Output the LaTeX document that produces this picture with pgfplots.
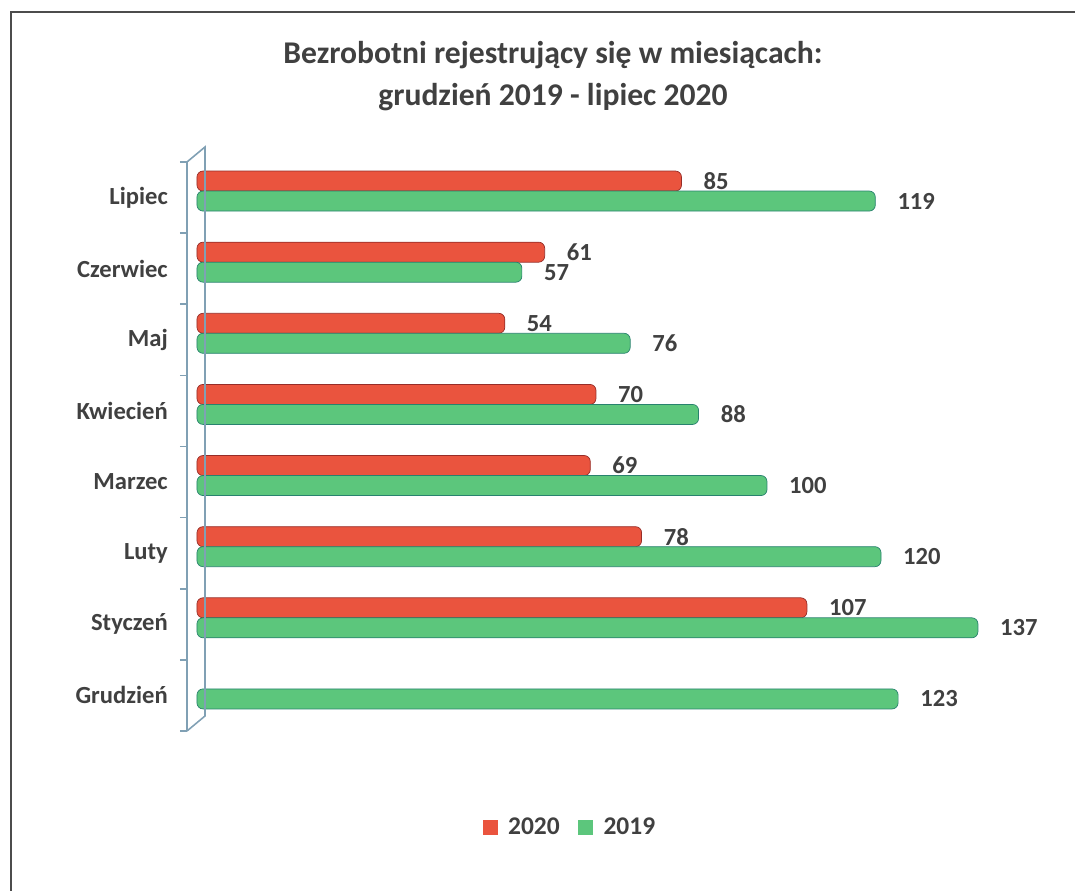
\documentclass[border=0pt]{standalone}
\usepackage{pgfplots}
\pgfplotsset{compat=1.18}
\usepackage{fontspec}
\setmainfont{Carlito}
\definecolor{redbar}{RGB}{234,84,62}
\definecolor{redbot}{RGB}{150,45,40}
\definecolor{greenbar}{RGB}{92,198,124}
\definecolor{greenbot}{RGB}{40,130,110}
\definecolor{txt}{RGB}{64,64,64}
\definecolor{axcol}{RGB}{128,160,180}
\begin{document}
\begin{tikzpicture}[font=\bfseries]
\begin{axis}[
  scale only axis, width=161.6mm, height=113.8mm,
  xbar, bar width=4mm,
  xmin=-1.75, xmax=140, ymin=-0.5, ymax=7.5,
  axis x line=none, axis y line*=left,
  y axis line style={axcol, line width=0.9pt, -},
  ytick={0,...,7},
  yticklabels={Grudzień,Styczeń,Luty,Marzec,Kwiecień,Maj,Czerwiec,Lipiec},
  major tick length=0pt,
  minor ytick={-0.5,0.5,...,7.5},
  minor tick length=1.4mm, tick align=outside,
  minor tick style={axcol, line width=0.9pt},
  yticklabel style={font=\fontsize{14}{16}\selectfont\bfseries, text=txt, xshift=-2.6mm},
  /pgf/number format/assume math mode=true,
  nodes near coords,
  every node near coord/.append style={anchor=west, xshift=3.2mm, font=\fontsize{14}{16}\selectfont\bfseries, text=txt},
  legend columns=-1,
  legend style={at={(0.475,-0.17)}, anchor=center, draw=none, fill=none,
    font=\fontsize{14.5}{16}\selectfont\bfseries, text=txt,
    /tikz/every odd column/.append style={column sep=1.4mm},
    /tikz/every even column/.append style={column sep=3mm}},
  clip=false,
]
\addplot[xbar, bar shift=3.3mm, fill=redbar, draw=redbot, line width=0.4pt, rounded corners=1.2mm,
  legend image code/.code={\fill[redbar, sharp corners] (0mm,-1.4mm) rectangle (2.8mm,1.4mm);}]
  coordinates {(107,1) (78,2) (69,3) (70,4) (54,5) (61,6) (85,7)};
\addplot[xbar, bar shift=-0.7mm, fill=greenbar, draw=greenbot, line width=0.4pt, rounded corners=1.2mm,
  legend image code/.code={\fill[greenbar, sharp corners] (0mm,-1.4mm) rectangle (2.8mm,1.4mm);}]
  coordinates {(123,0) (137,1) (120,2) (100,3) (88,4) (76,5) (57,6) (119,7)};
\legend{2020,2019}
\draw[axcol, line width=0.9pt] (rel axis cs:0,1) -- ([xshift=3.6mm,yshift=3mm]rel axis cs:0,1)
  -- ([xshift=3.6mm,yshift=3mm]rel axis cs:0,0) -- (rel axis cs:0,0);
\end{axis}
\node[text=txt, font=\fontsize{18}{21}\selectfont\bfseries] at (73.2mm,135.2mm) {Bezrobotni rejestrujący się w miesiącach:};
\node[text=txt, font=\fontsize{18}{21}\selectfont\bfseries] at (73.2mm,126.8mm) {grudzień 2019 - lipiec 2020};
\draw[black!70, line width=0.8pt] (-35.2mm,-40mm) -- (-35.2mm,143.8mm) -- (177.6mm,143.8mm);
\pgfresetboundingbox
\useasboundingbox (-37.4mm,-32mm) rectangle (177.6mm,146.2mm);
\end{tikzpicture}
\end{document}
